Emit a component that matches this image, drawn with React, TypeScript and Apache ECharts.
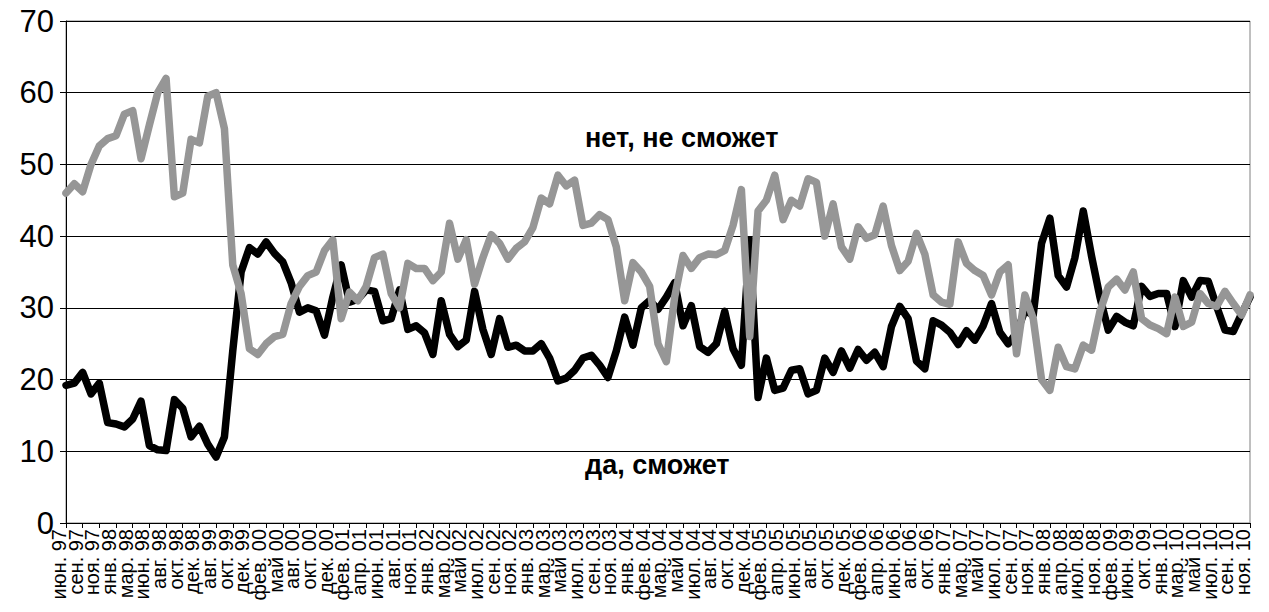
import React, { useEffect, useRef } from "react";
import * as echarts from "echarts";

const tickLabels = [
  "июн. 97", "сен. 97", "ноя. 97", "янв. 98", "мар. 98", "июн. 98", "авг. 98", "окт. 98", "дек. 98",
  "авг. 99", "окт. 99", "дек. 99", "фев. 00", "май 00", "авг. 00", "окт. 00", "дек. 00", "фев. 01",
  "апр. 01", "июн. 01", "авг. 01", "ноя. 01", "янв. 02", "мар. 02", "май 02", "июл. 02", "сен. 02",
  "ноя. 02", "янв. 03", "мар. 03", "май 03", "июл. 03", "сен. 03", "ноя. 03", "янв. 04", "фев. 04",
  "мар. 04", "май 04", "июл. 04", "авг. 04", "окт. 04", "дек. 04", "фев. 05", "апр. 05", "июн. 05",
  "авг. 05", "окт. 05", "дек. 05", "фев. 06", "апр. 06", "июн. 06", "авг. 06", "окт. 06", "янв. 07",
  "мар. 07", "май 07", "июл. 07", "сен. 07", "ноя. 07", "янв. 08", "апр. 08", "июл. 08", "ноя. 08",
  "фев. 09", "июн. 09", "окт. 09", "янв. 10", "мар. 10", "май 10", "июл. 10", "сен. 10", "ноя. 10",
];

// observations per labelled tick interval
const POINTS_PER_LABEL = 2;

// "да, сможет" (black)
const yesValues = [
  19.2, 19.5, 21, 18, 19.5, 14, 13.8, 13.4, 14.5, 17,
  10.8, 10.2, 10.1, 17.2, 16, 12, 13.5, 11, 9.2, 12,
  24, 35, 38.4, 37.5, 39.2, 37.6, 36.4, 33.5, 29.4, 30,
  29.6, 26.2, 31.5, 36, 30.8, 31.2, 32.5, 32.3, 28.2, 28.5,
  32.5, 27, 27.5, 26.5, 23.5, 31, 26.3, 24.6, 25.5, 32.3,
  27, 23.5, 28.5, 24.5, 24.8, 24, 24, 25, 23, 19.8,
  20.2, 21.3, 23, 23.4, 22, 20.3, 24, 28.7, 24.8, 30,
  31, 29.8, 31.5, 33.5, 27.5, 30.3, 24.6, 23.8, 25, 29.5,
  24.3, 22, 39.5, 17.5, 23, 18.5, 18.8, 21.3, 21.5, 18,
  18.5, 23, 21, 24, 21.6, 24.2, 22.7, 23.8, 21.8, 27.4,
  30.2, 28.5, 22.6, 21.5, 28.2, 27.6, 26.6, 24.9, 26.8, 25.5,
  27.5, 30.6, 26.6, 25, 26.5, 29.6, 29, 39, 42.5, 34.5,
  32.9, 37, 43.5, 37.2, 31.5, 26.9, 28.8, 28, 27.5, 33,
  31.6, 32, 32, 27.4, 33.8, 31.5, 33.8, 33.7, 30.2, 26.9,
  26.7, 29.2, 31.5,
];

// "нет, не сможет" (grey)
const noValues = [
  46, 47.3, 46.2, 50, 52.6, 53.6, 54, 57, 57.5, 50.8,
  55.5, 60, 62, 45.5, 46, 53.5, 53, 59.5, 60, 55,
  36, 32, 24.3, 23.5, 25, 26, 26.3, 30.6, 33, 34.5,
  35, 38, 39.5, 28.5, 32.2, 31, 33, 37, 37.5, 32,
  30, 36.2, 35.5, 35.5, 33.8, 35, 41.8, 36.8, 39.5, 33.3,
  37, 40.2, 39, 36.8, 38.3, 39.2, 41.2, 45.3, 44.5, 48.5,
  47, 47.8, 41.5, 41.8, 43, 42.3, 38.5, 31, 36.3, 35,
  33, 25, 22.5, 31.5, 37.3, 35.5, 37, 37.5, 37.4, 38,
  41.5, 46.5, 26, 43.5, 45, 48.5, 42.3, 45, 44.2, 48,
  47.5, 40, 44.5, 38.5, 36.8, 41.3, 39.7, 40.2, 44.2, 38.7,
  35.2, 36.5, 40.4, 37.5, 31.8, 30.8, 30.5, 39.2, 36.2, 35.2,
  34.5, 31.8, 35, 36, 23.6, 31.8, 28.5, 20, 18.5, 24.5,
  21.8, 21.5, 24.8, 24.1, 29.5, 32.9, 34, 32.5, 35, 28.5,
  27.6, 27.1, 26.4, 31.5, 27.4, 28, 32, 30.6, 30.2, 32.3,
  30.6, 29, 31.8,
];

const yTicks = { min: 0, max: 70, step: 10 };

const FONT = "'Liberation Sans', Arial, sans-serif";

export default function App() {
  const ref = useRef<HTMLDivElement>(null);

  useEffect(() => {
    if (!ref.current) return;
    const chart = echarts.init(ref.current, null, { renderer: "svg" });
    // one category per observation; every POINTS_PER_LABEL-th carries a tick label
    const categories = yesValues.map((_, i) => {
      const k = Math.floor(i / POINTS_PER_LABEL);
      return i % POINTS_PER_LABEL === 0 ? tickLabels[k] : `${tickLabels[k]} (${i % POINTS_PER_LABEL})`;
    });

    chart.setOption({
      animation: false,
      backgroundColor: "#ffffff",
      grid: {
        left: 66,
        right: 19,
        top: 21,
        bottom: 89,
        show: true,
        borderColor: "#808080",
        borderWidth: 1,
        containLabel: false,
        outerBoundsMode: "none",
      },
      xAxis: {
        type: "category",
        data: categories,
        boundaryGap: false,
        axisLine: { show: true, onZero: false, lineStyle: { color: "#000", width: 1 } },
        axisTick: {
          show: true,
          length: 5,
          interval: POINTS_PER_LABEL - 1,
          lineStyle: { color: "#000" },
        },
        splitLine: { show: false },
        axisLabel: {
          rotate: 90,
          margin: 6,
          interval: 0,
          hideOverlap: false,
          color: "#000",
          fontFamily: FONT,
          fontSize: 20,
          lineHeight: 14,
          verticalAlign: "bottom",
          formatter: (value: string, index: number) =>
            index % POINTS_PER_LABEL === 0 ? value : "",
        },
      },
      yAxis: {
        type: "value",
        min: yTicks.min,
        max: yTicks.max,
        interval: yTicks.step,
        axisLine: { show: true, lineStyle: { color: "#000", width: 1 } },
        axisTick: { show: true, length: 6, lineStyle: { color: "#000" } },
        splitLine: { show: true, lineStyle: { color: "#000", width: 1 } },
        axisLabel: {
          color: "#000",
          fontFamily: FONT,
          fontSize: 31,
          margin: 12,
          showMinLabel: true,
          showMaxLabel: true,
        },
      },
      series: [
        {
          name: "да, сможет",
          type: "line",
          data: yesValues,
          showSymbol: false,
          smooth: false,
          lineStyle: { color: "#000000", width: 7.5, cap: "round", join: "round" },
          z: 2,
        },
        {
          name: "нет, не сможет",
          type: "line",
          data: noValues,
          showSymbol: false,
          smooth: false,
          lineStyle: { color: "#969696", width: 7.5, cap: "round", join: "round" },
          z: 3,
        },
      ],
      graphic: [
        {
          type: "text",
          left: 585,
          top: 124,
          style: { text: "нет, не сможет", font: `bold 27px ${FONT}`, fill: "#000" },
        },
        {
          type: "text",
          left: 585,
          top: 451,
          style: { text: "да, сможет", font: `bold 27px ${FONT}`, fill: "#000" },
        },
      ],
    });

    return () => chart.dispose();
  }, []);

  return (
    <div
      ref={ref}
      style={{ position: "fixed", left: 0, top: 0, width: 1269, height: 612, background: "#fff" }}
    />
  );
}
